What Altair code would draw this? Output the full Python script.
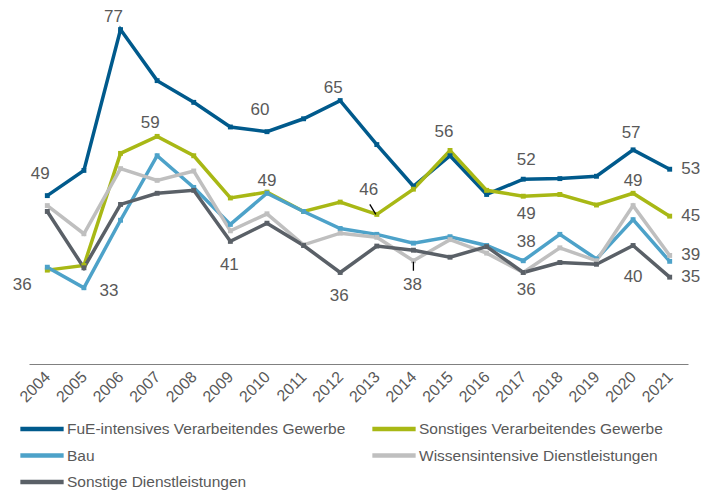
import altair as alt
import pandas as pd

years = list(range(2004, 2022))

series_names = [
    "FuE-intensives Verarbeitendes Gewerbe",
    "Sonstiges Verarbeitendes Gewerbe",
    "Bau",
    "Wissensintensive Dienstleistungen",
    "Sonstige Dienstleistungen",
]
colors = ["#005A8C", "#A8B815", "#4DA2C9", "#BFBFBF", "#5A6067"]

fue = [48.7, 53.0, 77.0, 68.3, 64.6, 60.4, 59.6, 61.8, 64.9, 57.4, 50.3, 55.5, 48.9, 51.5, 51.6, 52.0, 56.5, 53.2]
sonst_verarb = [36.0, 36.8, 55.9, 58.8, 55.5, 48.3, 49.3, 46.0, 47.6, 45.5, 49.8, 56.4, 49.6, 48.6, 48.9, 47.1, 49.1, 45.2]
bau = [36.5, 33.0, 44.5, 55.5, 50.1, 43.8, 49.1, 46.0, 43.1, 42.1, 40.6, 41.7, 40.2, 37.6, 42.1, 37.9, 44.6, 37.5]
wissens = [47.0, 42.2, 53.3, 51.3, 52.9, 42.7, 45.6, 40.3, 42.3, 41.6, 37.6, 41.2, 38.9, 35.6, 39.8, 37.6, 47.0, 38.5]
sonst_dienst = [46.0, 36.4, 47.2, 49.1, 49.6, 40.9, 44.0, 40.2, 35.6, 40.1, 39.4, 38.2, 40.0, 35.6, 37.3, 37.0, 40.2, 34.8]

all_values = [fue, sonst_verarb, bau, wissens, sonst_dienst]

# data labels: (series index, year, text, placement)
labels = [
    (0, 2004, "49", "nw_hi"),
    (0, 2006, "77", "nw"),
    (1, 2007, "59", "nw"),
    (0, 2010, "60", "nw_hi"),
    (0, 2012, "65", "nw"),
    (2, 2010, "49", "n"),
    (1, 2004, "36", "sw"),
    (2, 2005, "33", "e"),
    (4, 2009, "41", "s_lo"),
    (4, 2012, "36", "s_lo"),
    (1, 2013, "46", "nw_far"),
    (1, 2015, "56", "nw_mid"),
    (0, 2017, "52", "ne_hi"),
    (1, 2017, "49", "s"),
    (2, 2017, "38", "ne_hi"),
    (4, 2017, "36", "s"),
    (3, 2014, "38", "s_lo"),
    (0, 2020, "57", "n_hi"),
    (1, 2020, "49", "n"),
    (4, 2020, "40", "s_far"),
    (0, 2021, "53", "end"),
    (1, 2021, "45", "end"),
    (3, 2021, "39", "end"),
    (4, 2021, "35", "end"),
]
# leader lines: (series index, year)
leaders = [(1, 2013, "diag"), (3, 2014, "down")]

placements = {
    "nw": (-7, -13),
    "nw_hi": (-7, -22),
    "nw_mid": (-6, -18),
    "nw_far": (-8, -24),
    "n": (0, -12),
    "n_hi": (-2, -17),
    "ne_hi": (3, -19),
    "s": (3, 18),
    "s_lo": (-1, 24),
    "s_far": (0, 32),
    "sw": (-25, 15),
    "e": (25, 3),
    "end": (21, 0),
}

rows = []
for name, vals in zip(series_names, all_values):
    for y, v in zip(years, vals):
        rows.append({"Jahr": y, "Wert": v, "Reihe": name})
df = pd.DataFrame(rows)

lab_rows = []
for si, yr, txt, pos in labels:
    lab_rows.append({"Jahr": yr, "Wert": all_values[si][years.index(yr)], "Text": txt, "pos": pos})
lab_df = pd.DataFrame(lab_rows)

lead_rows = []
for si, yr, kind in leaders:
    lead_rows.append({"Jahr": yr, "Wert": all_values[si][years.index(yr)], "kind": kind})
lead_df = pd.DataFrame(lead_rows)

FONT = "Liberation Sans"
TXT = "#595959"

x_enc = alt.X(
    "Jahr:Q",
    scale=alt.Scale(domain=[2003.5, 2021.5], nice=False, zero=False),
    axis=alt.Axis(
        values=years, format="d", title=None, grid=False, ticks=False,
        labelAngle=-45, labelAlign="right", labelBaseline="middle",
        labelPadding=10, labelFontSize=16, labelColor=TXT, labelFont=FONT,
        domainColor="#808080", domainWidth=1.2, labelOverlap=False, labelBound=False,
    ),
)
y_enc = alt.Y("Wert:Q", scale=alt.Scale(domain=[20, 80], nice=False, zero=False), axis=None)

color_enc = alt.Color(
    "Reihe:N",
    scale=alt.Scale(domain=series_names, range=colors),
    sort=series_names,
    legend=alt.Legend(
        title=None, orient="none", legendX=2, legendY=406, columns=2, direction="horizontal",
        symbolType="M-2.5,0L2.5,0", symbolSize=300, symbolStrokeWidth=4.5,
        labelFontSize=15.5, labelColor=TXT, labelFont=FONT, labelOffset=14,
        columnPadding=17, rowPadding=6.5, labelLimit=400,
    ),
)

base = alt.Chart(df)
lines = base.mark_line(strokeWidth=3.5).encode(x=x_enc, y=y_enc, color=color_enc)
points = base.mark_point(shape="square", filled=True, size=24, opacity=1).encode(
    x=x_enc, y=y_enc, color=alt.Color("Reihe:N", scale=alt.Scale(domain=series_names, range=colors), legend=None)
)

layers = [lines, points]
for key, (dx, dy) in placements.items():
    sub = lab_df[lab_df["pos"] == key]
    if len(sub) == 0:
        continue
    layers.append(
        alt.Chart(sub).mark_text(
            dx=dx, dy=dy, fontSize=17, font=FONT, color=TXT, align="center", baseline="middle"
        ).encode(x=x_enc, y=y_enc, text="Text:N")
    )

diag = lead_df[lead_df["kind"] == "diag"]
down = lead_df[lead_df["kind"] == "down"]
layers.append(
    alt.Chart(diag).mark_rule(color="#000000", strokeWidth=1.3, xOffset=-1, yOffset=0, x2Offset=-7, y2Offset=-10).encode(
        x=x_enc, y=y_enc, x2="Jahr:Q", y2="Wert:Q"
    )
)
layers.append(
    alt.Chart(down).mark_rule(color="#000000", strokeWidth=1.3, yOffset=1, y2Offset=10).encode(
        x=x_enc, y=y_enc, x2="Jahr:Q", y2="Wert:Q"
    )
)

chart = alt.layer(*layers).properties(
    width=659, height=352,
    autosize=alt.AutoSizeParams(type="none"),
    padding={"left": 21, "top": 4, "right": 17, "bottom": 126},
).configure(font=FONT).configure_view(strokeWidth=0, stroke="transparent")

chart.save("out.html", embed_options={"renderer": "svg", "actions": False})
